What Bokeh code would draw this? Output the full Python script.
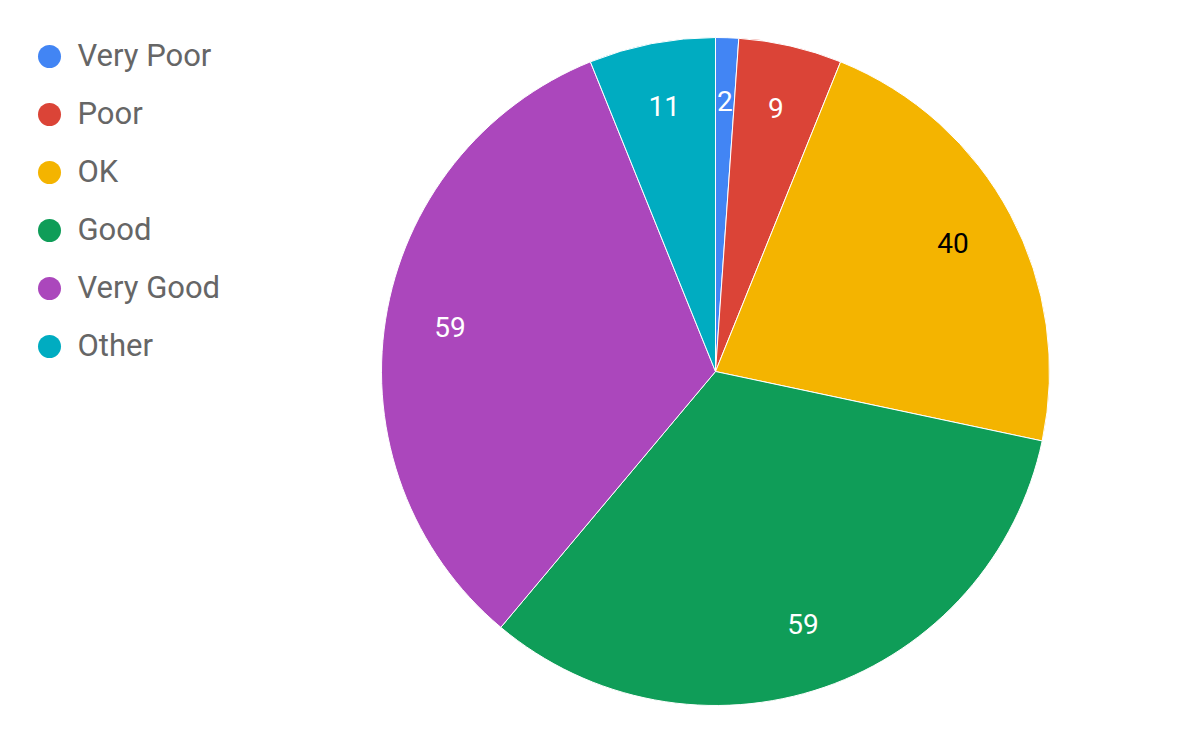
import math
from bokeh.plotting import figure
from bokeh.models import Range1d, ColumnDataSource
from bokeh.core.properties import value
from bokeh.embed import file_html
from bokeh.resources import INLINE

categories = ["Very Poor", "Poor", "OK", "Good", "Very Good", "Other"]
counts = [2, 9, 40, 59, 59, 11]
colors = ["#4285F4", "#DB4437", "#F4B400", "#0F9D58", "#AB47BC", "#00ACC1"]
label_colors = ["white", "white", "black", "white", "white", "white"]

W, H = 1184, 726
cx, cy, R = 715, H - 371, 334

total = sum(counts)
starts, ends, lx, ly = [], [], [], []
acc = 0
for c in counts:
    a0 = math.pi / 2 - 2 * math.pi * acc / total
    a1 = math.pi / 2 - 2 * math.pi * (acc + c) / total
    starts.append(a0)
    ends.append(a1)
    mid = (a0 + a1) / 2
    lx.append(cx + 0.805 * R * math.cos(mid))
    ly.append(cy + 0.805 * R * math.sin(mid))
    acc += c

src = ColumnDataSource(dict(start=starts, end=ends, color=colors,
                            lx=lx, ly=ly, txt=[str(c) for c in counts],
                            tcol=label_colors))

p = figure(width=W, height=H, output_backend="svg", toolbar_location=None,
           x_range=Range1d(0, W), y_range=Range1d(0, H),
           x_axis_location=None, y_axis_location=None, min_border=0)
p.grid.visible = False
p.outline_line_color = None

p.wedge(x=cx, y=cy, radius=R, start_angle="start", end_angle="end",
        direction="clock", fill_color="color", line_color="white",
        line_width=1, source=src)
p.text(x="lx", y="ly", text="txt", text_color="tcol", source=src,
       text_font=value("Roboto"), text_font_size="28px",
       text_align="center", text_baseline="middle", y_offset=-2)

# legend
leg_y = [H - 56 - 58 * i for i in range(len(categories))]
lsrc = ColumnDataSource(dict(x=[49] * len(categories), y=leg_y,
                             tx=[77] * len(categories),
                             name=categories, color=colors))
p.scatter(x="x", y="y", size=23, marker="circle", fill_color="color",
          line_color=None, source=lsrc)
p.text(x="tx", y="y", text="name", source=lsrc, text_color="#666666",
       text_font=value("Roboto"), text_font_size="31px",
       text_align="left", text_baseline="middle", y_offset=-1)

open("out.html", "w").write(file_html(p, INLINE))
